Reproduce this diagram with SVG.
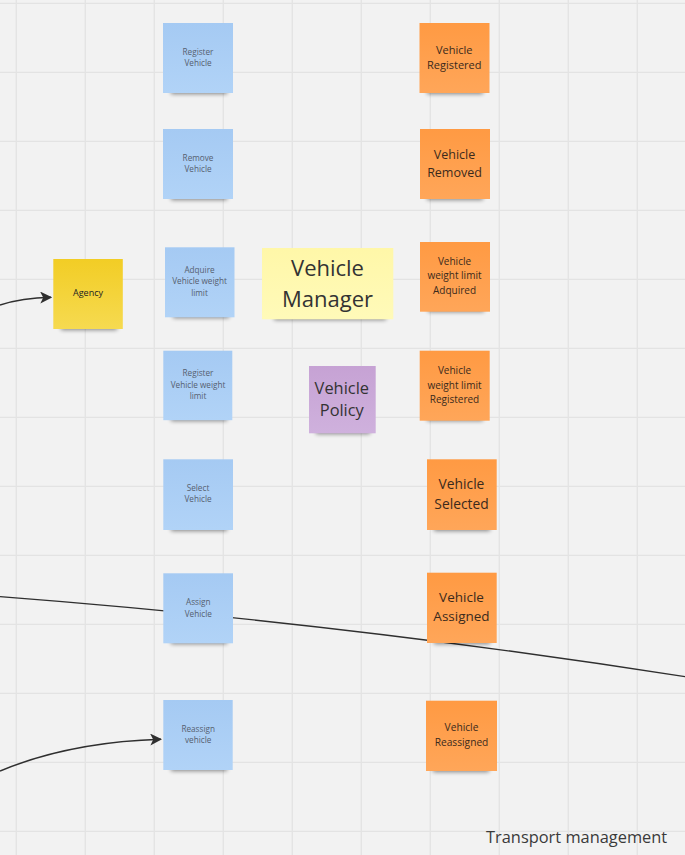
<svg xmlns="http://www.w3.org/2000/svg" width="685" height="855" viewBox="0 0 685 855">
<style>
  .grid line { stroke: #e3e3e3; stroke-width: 1.3; }
  text { font-family: "Open Sans", "Noto Sans", "Liberation Sans", sans-serif; text-anchor: middle; }
  .tb { fill: #56606f; font-size: 8.2px; }
  .to { fill: #3b2a1c; }
  .td { fill: #333333; }
  .sh { fill: #000; opacity: 0.45; filter: url(#blur); }
  .conn { fill: none; stroke: #2f2f2f; }
</style>
<defs>
  <filter id="blur" x="-20%" y="-100%" width="140%" height="300%"><feGaussianBlur stdDeviation="2.2"/></filter>
  <linearGradient id="gBlue" x1="0" y1="0" x2="0" y2="1"><stop offset="0" stop-color="#a5caf3"/><stop offset="1" stop-color="#b1d3f7"/></linearGradient>
  <linearGradient id="gOrange" x1="0" y1="0" x2="0" y2="1"><stop offset="0" stop-color="#ff9a43"/><stop offset="1" stop-color="#ffa659"/></linearGradient>
  <linearGradient id="gYellow" x1="0" y1="0" x2="0" y2="1"><stop offset="0" stop-color="#f2cd25"/><stop offset="1" stop-color="#f6da50"/></linearGradient>
  <linearGradient id="gLight" x1="0" y1="0" x2="0" y2="1"><stop offset="0" stop-color="#fff7a8"/><stop offset="1" stop-color="#fffab9"/></linearGradient>
  <linearGradient id="gPurple" x1="0" y1="0" x2="0" y2="1"><stop offset="0" stop-color="#c6a2d4"/><stop offset="1" stop-color="#cfb1dd"/></linearGradient>
  <marker id="arrow" markerUnits="userSpaceOnUse" markerWidth="12" markerHeight="12" viewBox="0 0 10 10" refX="9" refY="5" orient="auto">
    <path d="M0,0 L10,5 L0,10 L2.5,5 Z" fill="#2f2f2f"/>
  </marker>
</defs>
<rect width="685" height="855" fill="#f2f2f2"/>
<g class="grid" id="grid">
  <line x1="16.3" y1="0" x2="16.3" y2="855"/>
  <line x1="85.3" y1="0" x2="85.3" y2="855"/>
  <line x1="154.3" y1="0" x2="154.3" y2="855"/>
  <line x1="223.3" y1="0" x2="223.3" y2="855"/>
  <line x1="292.3" y1="0" x2="292.3" y2="855"/>
  <line x1="361.3" y1="0" x2="361.3" y2="855"/>
  <line x1="430.3" y1="0" x2="430.3" y2="855"/>
  <line x1="499.3" y1="0" x2="499.3" y2="855"/>
  <line x1="568.3" y1="0" x2="568.3" y2="855"/>
  <line x1="637.3" y1="0" x2="637.3" y2="855"/>
  <line x1="0" y1="3.3" x2="685" y2="3.3"/>
  <line x1="0" y1="72.3" x2="685" y2="72.3"/>
  <line x1="0" y1="141.3" x2="685" y2="141.3"/>
  <line x1="0" y1="210.3" x2="685" y2="210.3"/>
  <line x1="0" y1="279.3" x2="685" y2="279.3"/>
  <line x1="0" y1="348.3" x2="685" y2="348.3"/>
  <line x1="0" y1="417.3" x2="685" y2="417.3"/>
  <line x1="0" y1="486.3" x2="685" y2="486.3"/>
  <line x1="0" y1="555.3" x2="685" y2="555.3"/>
  <line x1="0" y1="624.3" x2="685" y2="624.3"/>
  <line x1="0" y1="693.3" x2="685" y2="693.3"/>
  <line x1="0" y1="762.3" x2="685" y2="762.3"/>
  <line x1="0" y1="831.3" x2="685" y2="831.3"/>
</g>
<g id="connectors">
  <path class="conn" d="M0,305 Q22,298 51,297.3" stroke-width="1.5" marker-end="url(#arrow)"/>
  <path class="conn" d="M0,596.7 Q342.5,623 685,676.7" stroke-width="1.3"/>
  <path class="conn" d="M0,771 Q70,742 161,739.3" stroke-width="1.5" marker-end="url(#arrow)"/>
</g>
<g id="register-vehicle">
  <rect class="sh" x="171" y="88" width="56" height="6"/>
  <rect x="163" y="23" width="70" height="70" fill="url(#gBlue)"/>
  <text class="tb" x="198" y="55.2">Register</text>
  <text class="tb" x="198" y="65.9">Vehicle</text>
</g>
<g id="remove-vehicle">
  <rect class="sh" x="171" y="194" width="56" height="6"/>
  <rect x="163" y="129" width="70" height="70" fill="url(#gBlue)"/>
  <text class="tb" x="198" y="160.9">Remove</text>
  <text class="tb" x="198" y="171.9">Vehicle</text>
</g>
<g id="vehicle-registered">
  <rect class="sh" x="427" y="88" width="56" height="6"/>
  <rect x="419.5" y="23" width="70" height="70" fill="url(#gOrange)"/>
  <text class="to" x="454.3" y="53.9" font-size="11">Vehicle</text>
  <text class="to" x="454.3" y="68.9" font-size="11">Registered</text>
</g>
<g id="vehicle-removed">
  <rect class="sh" x="427" y="194" width="56" height="6"/>
  <rect x="420" y="129" width="70" height="70" fill="url(#gOrange)"/>
  <text class="to" x="454.5" y="159.2" font-size="12.5">Vehicle</text>
  <text class="to" x="454.5" y="177.2" font-size="12.5">Removed</text>
</g>
<g id="agency">
  <rect class="sh" x="61" y="324" width="56" height="6"/>
  <rect x="53.3" y="259" width="69.5" height="70" fill="url(#gYellow)"/>
  <text x="88" y="295.9" font-size="9" fill="#222">Agency</text>
</g>
<g id="adquire-vehicle-weight-limit">
  <rect class="sh" x="173" y="312" width="56" height="6"/>
  <rect x="165" y="247.3" width="69.5" height="70" fill="url(#gBlue)"/>
  <text class="tb" x="199.5" y="272.9">Adquire</text>
  <text class="tb" x="199.5" y="284.2">Vehicle weight</text>
  <text class="tb" x="199.5" y="295.6">limit</text>
</g>
<g id="vehicle-manager">
  <rect class="sh" x="274" y="314" width="112" height="6"/>
  <rect x="262" y="248" width="131.3" height="71.3" fill="url(#gLight)"/>
  <text class="td" x="327.5" y="276.2" font-size="22">Vehicle</text>
  <text class="td" x="327.5" y="306.9" font-size="22">Manager</text>
</g>
<g id="vehicle-weight-limit-adquired">
  <rect class="sh" x="428" y="306" width="56" height="6"/>
  <rect x="420" y="242" width="70" height="69.7" fill="url(#gOrange)"/>
  <text class="to" x="454.5" y="265.3" font-size="10">Vehicle</text>
  <text class="to" x="454.5" y="279.3" font-size="10">weight limit</text>
  <text class="to" x="454.5" y="294.3" font-size="10">Adquired</text>
</g>
<g id="register-vehicle-weight-limit">
  <rect class="sh" x="171" y="415" width="56" height="6"/>
  <rect x="163.3" y="350.7" width="69" height="69.5" fill="url(#gBlue)"/>
  <text class="tb" x="198" y="375.9">Register</text>
  <text class="tb" x="198" y="387.9">Vehicle weight</text>
  <text class="tb" x="198" y="398.9">limit</text>
</g>
<g id="vehicle-policy">
  <rect class="sh" x="316" y="428" width="54" height="6"/>
  <rect x="309" y="366" width="66.7" height="67.3" fill="url(#gPurple)"/>
  <text class="td" x="341.8" y="394.2" font-size="16.4">Vehicle</text>
  <text class="td" x="341.8" y="415.9" font-size="16.4">Policy</text>
</g>
<g id="vehicle-weight-limit-registered">
  <rect class="sh" x="427" y="415" width="56" height="6"/>
  <rect x="419.7" y="350.7" width="70" height="70" fill="url(#gOrange)"/>
  <text class="to" x="454.5" y="374.3" font-size="10">Vehicle</text>
  <text class="to" x="454.5" y="388.6" font-size="10">weight limit</text>
  <text class="to" x="454.5" y="403.3" font-size="10">Registered</text>
</g>
<g id="select-vehicle">
  <rect class="sh" x="171" y="525" width="56" height="6"/>
  <rect x="163.3" y="459.3" width="69.7" height="70.7" fill="url(#gBlue)"/>
  <text class="tb" x="198" y="491.2">Select</text>
  <text class="tb" x="198" y="501.9">Vehicle</text>
</g>
<g id="vehicle-selected">
  <rect class="sh" x="434" y="525" width="56" height="6"/>
  <rect x="427" y="459.3" width="69.7" height="70.7" fill="url(#gOrange)"/>
  <text class="to" x="461.5" y="489" font-size="13.8">Vehicle</text>
  <text class="to" x="461.5" y="508.7" font-size="13.8">Selected</text>
</g>
<g id="assign-vehicle">
  <rect class="sh" x="171" y="638" width="56" height="6"/>
  <rect x="163.3" y="573.3" width="69.7" height="70" fill="url(#gBlue)"/>
  <text class="tb" x="198.3" y="605.2">Assign</text>
  <text class="tb" x="198.3" y="616.9">Vehicle</text>
</g>
<g id="vehicle-assigned">
  <rect class="sh" x="434" y="638" width="56" height="6"/>
  <rect x="427" y="572.7" width="69.7" height="70.3" fill="url(#gOrange)"/>
  <text class="to" x="461.5" y="602.1" font-size="13.5">Vehicle</text>
  <text class="to" x="461.5" y="621.1" font-size="13.5">Assigned</text>
</g>
<g id="reassign-vehicle">
  <rect class="sh" x="171" y="765" width="56" height="6"/>
  <rect x="163.3" y="700" width="69.4" height="70" fill="url(#gBlue)"/>
  <text class="tb" x="198.2" y="732.2">Reassign</text>
  <text class="tb" x="198.2" y="742.9">vehicle</text>
</g>
<g id="vehicle-reassigned">
  <rect class="sh" x="433" y="766" width="56" height="6"/>
  <rect x="426" y="700.7" width="71" height="70.3" fill="url(#gOrange)"/>
  <text class="to" x="461.5" y="731.3" font-size="10.2">Vehicle</text>
  <text class="to" x="461.5" y="746.3" font-size="10.2">Reassigned</text>
</g>
<text x="486" y="842.7" font-size="16.4" fill="#3a3a3a" style="text-anchor:start">Transport management</text>
</svg>
